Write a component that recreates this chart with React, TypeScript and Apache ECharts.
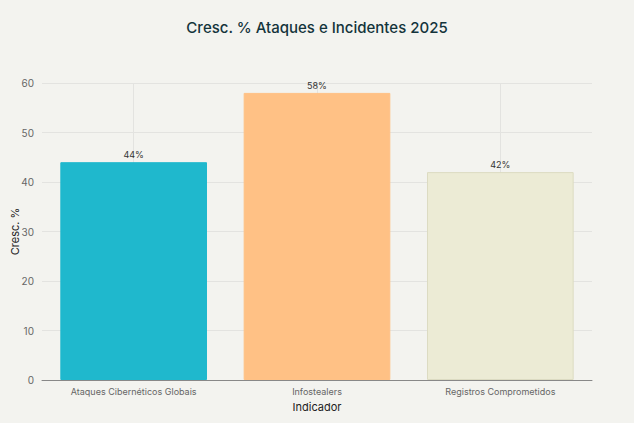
import React, { useEffect, useRef } from "react";
import * as echarts from "echarts";

const categories = ["Ataques Cibernéticos Globais", "Infostealers", "Registros Comprometidos"];
const values = [44, 58, 42];
const barColors = ["#1FB8CD", "#FFC185", "#ECEBD5"];
const barBorders = ["#1FB8CD", "#FFC185", "#DCDBC2"];

export default function App() {
  const ref = useRef<HTMLDivElement>(null);
  useEffect(() => {
    document.body.style.margin = "0";
    const chart = echarts.init(ref.current!, null, { renderer: "svg" });
    chart.setOption({
      animation: false,
      backgroundColor: "#F3F3EF",
      textStyle: { fontFamily: "Inter, 'Noto Sans', sans-serif" },
      title: {
        text: "Cresc. % Ataques e Incidentes 2025",
        left: "center",
        top: 15,
        textStyle: { fontSize: 15, fontWeight: 500, color: "#13343B" },
      },
      grid: {
        left: 42,
        right: 42,
        top: 83,
        bottom: 43,
        containLabel: false,
        outerBoundsMode: "none",
      },
      xAxis: {
        type: "category",
        data: categories,
        name: "Indicador",
        nameLocation: "middle",
        nameGap: 21,
        nameMoveOverlap: false,
        nameTextStyle: { fontSize: 11, color: "#222" },
        axisLine: { show: true, lineStyle: { color: "#888", width: 1 } },
        axisTick: { show: false },
        axisLabel: { fontSize: 9, color: "#666", margin: 7 },
        splitLine: { show: true, alignWithLabel: true, lineStyle: { color: "#E3E3E0" } },
      },
      yAxis: {
        type: "value",
        min: 0,
        max: 60,
        interval: 10,
        name: "Cresc. %",
        nameLocation: "middle",
        nameGap: 22,
        nameMoveOverlap: false,
        nameTextStyle: { fontSize: 11, color: "#222" },
        axisLine: { show: false },
        axisTick: { show: false },
        axisLabel: { fontSize: 10, color: "#666", margin: 8 },
        splitLine: { lineStyle: { color: "#E3E3E0" } },
      },
      series: [
        {
          type: "bar",
          barWidth: "80%",
          data: values.map((v, i) => ({
            value: v,
            itemStyle: { color: barColors[i], borderColor: barBorders[i], borderWidth: 1 },
          })),
          label: {
            show: true,
            position: "top",
            distance: 3,
            formatter: "{c}%",
            fontSize: 9,
            color: "#333",
          },
        },
      ],
    });
    return () => chart.dispose();
  }, []);
  return <div ref={ref} style={{ width: 634, height: 423 }} />;
}
